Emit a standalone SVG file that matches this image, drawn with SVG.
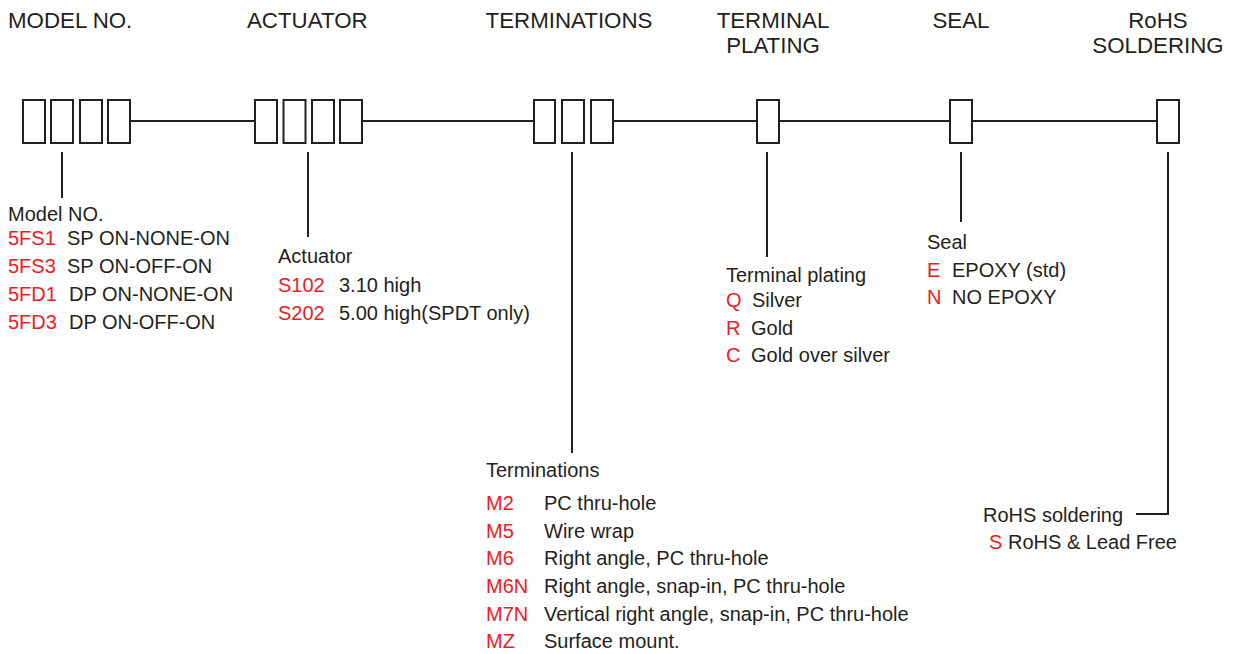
<svg xmlns="http://www.w3.org/2000/svg" width="1233" height="654" viewBox="0 0 1233 654">
<style>
.hd{font-family:"Liberation Sans",Arial,sans-serif;font-size:22.3px;fill:#231f20}
.tx{font-family:"Liberation Sans",Arial,sans-serif;font-size:20px;fill:#231f20}
.cd{font-family:"Liberation Sans",Arial,sans-serif;font-size:20px;fill:#ed1c24}
.bx{fill:#fff;stroke:#231f20;stroke-width:2}
.ln{stroke:#231f20;stroke-width:2;fill:none}
</style>
<rect width="1233" height="654" fill="#fff"/>
<g id="connectors">
<line class="ln" x1="131" y1="121" x2="255" y2="121"/>
<line class="ln" x1="362" y1="121" x2="534" y2="121"/>
<line class="ln" x1="613" y1="121" x2="757" y2="121"/>
<line class="ln" x1="779" y1="121" x2="950" y2="121"/>
<line class="ln" x1="972" y1="121" x2="1157" y2="121"/>
<line class="ln" x1="62" y1="152" x2="62" y2="198"/>
<line class="ln" x1="308" y1="152" x2="308" y2="237"/>
<line class="ln" x1="572" y1="152" x2="572" y2="453"/>
<line class="ln" x1="767" y1="152" x2="767" y2="257"/>
<line class="ln" x1="961" y1="152" x2="961" y2="222"/>
<polyline class="ln" points="1168,152 1168,514 1136,514"/>
</g>
<g id="model">
<text class="hd" x="8" y="28">MODEL NO.</text>
<rect class="bx" x="23" y="100" width="22" height="43"/>
<rect class="bx" x="51" y="100" width="22" height="43"/>
<rect class="bx" x="80" y="100" width="22" height="43"/>
<rect class="bx" x="108" y="100" width="22" height="43"/>
<text class="tx" x="8" y="221">Model NO.</text>
<text class="cd" x="8" y="245">5FS1</text><text class="tx" x="67" y="245">SP ON-NONE-ON</text>
<text class="cd" x="8" y="273">5FS3</text><text class="tx" x="67" y="273">SP ON-OFF-ON</text>
<text class="cd" x="8" y="301">5FD1</text><text class="tx" x="69" y="301">DP ON-NONE-ON</text>
<text class="cd" x="8" y="329">5FD3</text><text class="tx" x="69" y="329">DP ON-OFF-ON</text>
</g>
<g id="actuator">
<text class="hd" x="247" y="28">ACTUATOR</text>
<rect class="bx" x="255" y="100" width="22" height="43"/>
<rect class="bx" x="283.5" y="100" width="22" height="43"/>
<rect class="bx" x="312" y="100" width="22" height="43"/>
<rect class="bx" x="340" y="100" width="22" height="43"/>
<text class="tx" x="278" y="263">Actuator</text>
<text class="cd" x="278" y="292">S102</text><text class="tx" x="339" y="292">3.10 high</text>
<text class="cd" x="278" y="320">S202</text><text class="tx" x="339" y="320">5.00 high(SPDT only)</text>
</g>
<g id="terminations">
<text class="hd" x="569" y="28" text-anchor="middle">TERMINATIONS</text>
<rect class="bx" x="534" y="100" width="21" height="43"/>
<rect class="bx" x="562" y="100" width="22" height="43"/>
<rect class="bx" x="591" y="100" width="22" height="43"/>
<text class="tx" x="486" y="477">Terminations</text>
<text class="cd" x="486" y="510">M2</text><text class="tx" x="544" y="510">PC thru-hole</text>
<text class="cd" x="486" y="538">M5</text><text class="tx" x="544" y="538">Wire wrap</text>
<text class="cd" x="486" y="565">M6</text><text class="tx" x="544" y="565">Right angle, PC thru-hole</text>
<text class="cd" x="486" y="593">M6N</text><text class="tx" x="544" y="593">Right angle, snap-in, PC thru-hole</text>
<text class="cd" x="486" y="621">M7N</text><text class="tx" x="544" y="621">Vertical right angle, snap-in, PC thru-hole</text>
<text class="cd" x="486" y="648">MZ</text><text class="tx" x="544" y="648">Surface mount.</text>
</g>
<g id="plating">
<text class="hd" x="773" y="28" text-anchor="middle">TERMINAL</text>
<text class="hd" x="773" y="53" text-anchor="middle">PLATING</text>
<rect class="bx" x="757" y="100" width="22" height="43"/>
<text class="tx" x="726" y="282">Terminal plating</text>
<text class="cd" x="726" y="307">Q</text><text class="tx" x="752" y="307">Silver</text>
<text class="cd" x="726" y="335">R</text><text class="tx" x="751" y="335">Gold</text>
<text class="cd" x="726" y="362">C</text><text class="tx" x="751" y="362">Gold over silver</text>
</g>
<g id="seal">
<text class="hd" x="961" y="28" text-anchor="middle">SEAL</text>
<rect class="bx" x="950" y="100" width="22" height="43"/>
<text class="tx" x="927" y="249">Seal</text>
<text class="cd" x="927" y="277">E</text><text class="tx" x="952" y="277">EPOXY (std)</text>
<text class="cd" x="927" y="304">N</text><text class="tx" x="952" y="304">NO EPOXY</text>
</g>
<g id="rohs">
<text class="hd" x="1158" y="28" text-anchor="middle">RoHS</text>
<text class="hd" x="1158" y="53" text-anchor="middle">SOLDERING</text>
<rect class="bx" x="1157" y="100" width="22" height="43"/>
<text class="tx" x="983" y="522">RoHS soldering</text>
<text class="cd" x="989" y="549">S</text><text class="tx" x="1008" y="549">RoHS &amp; Lead Free</text>
</g>
</svg>
